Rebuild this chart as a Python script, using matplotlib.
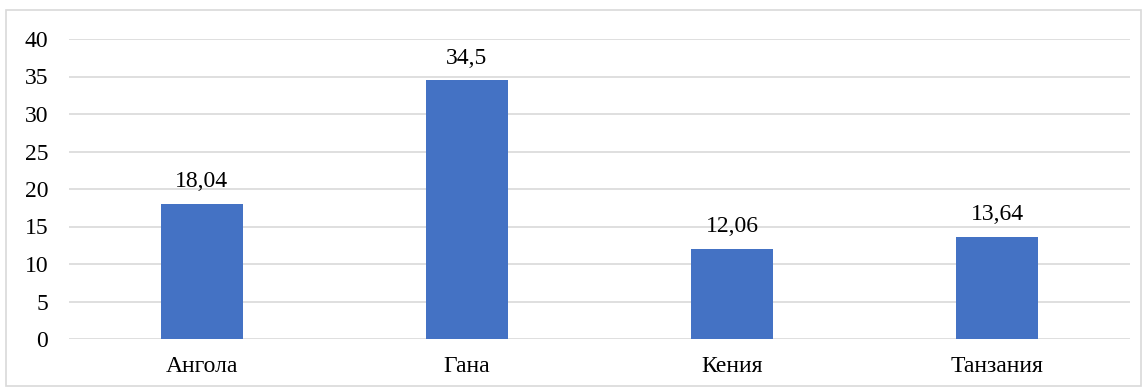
import matplotlib
matplotlib.use("Agg")
import matplotlib.pyplot as plt
from matplotlib.patches import Rectangle

# Bar chart: values per country
countries = ["Ангола", "Гана", "Кения", "Танзания"]
values = [18.04, 34.5, 12.06, 13.64]
value_labels = ["18,04", "34,5", "12,06", "13,64"]
y_ticks = [0, 5, 10, 15, 20, 25, 30, 35, 40]

plt.rcParams['font.family'] = ['Liberation Serif', 'DejaVu Serif']

fig = plt.figure(figsize=(11.48, 3.91), dpi=100)
ax = fig.add_axes([69 / 1148, 1 - 339 / 391, (1130 - 69) / 1148, 300 / 391])

x = range(len(countries))
ax.bar(x, values, width=0.31, color="#4472C4", zorder=3)
for xi, v, lab in zip(x, values, value_labels):
    ax.annotate(lab, (xi, v), xytext=(0, 12), textcoords="offset points",
                ha="center", va="baseline", fontsize=17, color="#000000")

ax.set_xlim(-0.5, len(countries) - 0.5)
ax.set_ylim(0, 40)
ax.set_yticks(y_ticks)
ax.set_yticklabels([str(t) for t in y_ticks], fontsize=17)
ax.set_xticks(list(x))
ax.set_xticklabels(countries, fontsize=17)
ax.tick_params(axis="both", length=0)
ax.tick_params(axis="y", pad=15)
ax.tick_params(axis="x", pad=12)
ax.grid(axis="y", color="#D9D9D9", linewidth=1.2, zorder=0)
for s in ax.spines.values():
    s.set_visible(False)

# light frame around the whole chart
fig.patches.append(Rectangle((6 / 1148, 1 - 386 / 391), 1135 / 1148, 376 / 391,
                             transform=fig.transFigure, fill=False,
                             edgecolor="#D9D9D9", linewidth=1.2))

fig.savefig("out.png", dpi=100)
